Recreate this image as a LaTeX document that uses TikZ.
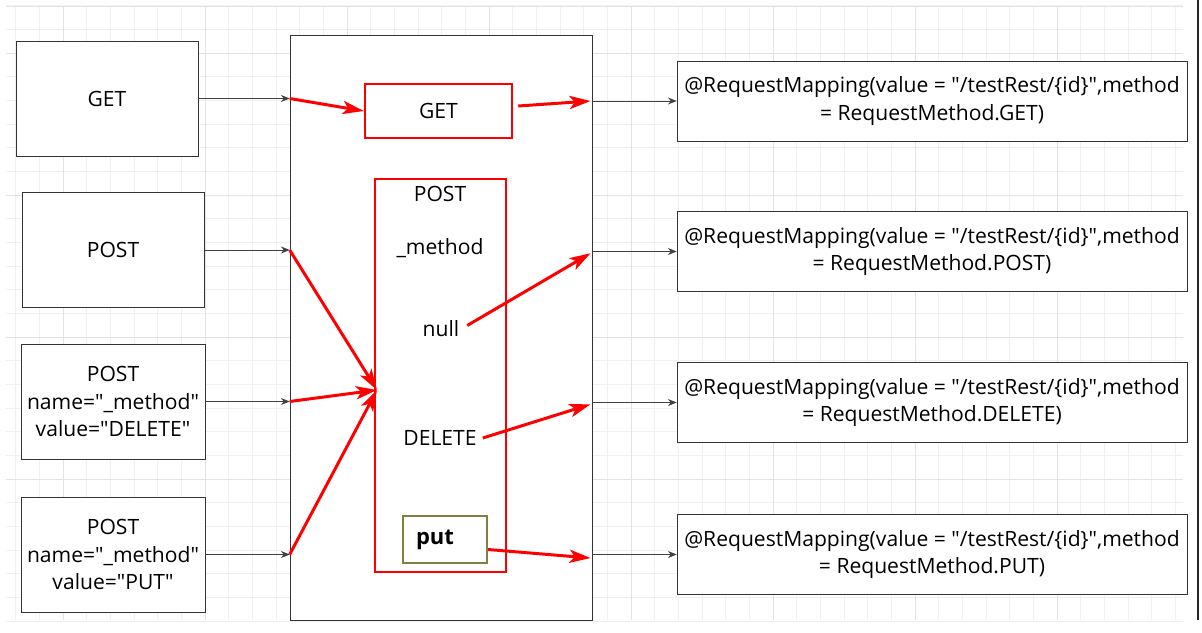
\documentclass[tikz,border=0pt]{standalone}
\usepackage{fontspec}
\setmainfont{Open Sans}
\usetikzlibrary{arrows.meta,positioning}
\newcommand{\dq}{\textquotedbl}
\tikzset{block/.style={draw=black!80, fill=white, rectangle, align=center,
		font=\fontsize{12}{15.8}\selectfont},
	label/.style={font=\fontsize{12}{15.8}\selectfont},
	redbox/.style={draw=red, line width=1.4pt, fill=white},
	putbox/.style={draw={rgb,255:red,128;green,128;blue,64}, line width=1.2pt, fill=white,
		font=\fontsize{12.5}{14}\selectfont\bfseries},
	arrow/.style={draw=black!75, line width=0.5pt, -{Stealth[length=5pt,width=4pt]}},
	redarrow/.style={draw=red, line width=1.7pt, -{Stealth[length=12pt,width=7.5pt,inset=3pt]}},
	minor/.style={draw=black!6, line width=0.5pt},
	major/.style={draw=black!11, line width=0.5pt}}
\begin{document}
\begin{tikzpicture}[x=0.02cm,y=-0.02cm]
	\useasboundingbox (0,0) rectangle (1202,632);
	% grid
	\foreach \i in {-2,...,47}
	\draw[minor]({63+23.67*\i},6)--({63+23.67*\i},620);
	\foreach \j in {-2,...,24}
	\draw[minor](6,{53+23.67*\j})--(1183,{53+23.67*\j});
	\foreach \i in {0,...,7}
	\draw[major]({63+142*\i},6)--({63+142*\i},620);
	\foreach \j in {0,...,3}
	\draw[major](6,{53+142*\j})--(1183,{53+142*\j});
	\draw[major](6,6)--(1183,6);
	\draw[black!85,line width=0.8pt](1198,0)--(1198,620);
	
	% requests
	\node[block,minimum width=3.64cm,minimum height=2.3cm](get)at(107,98.5){GET};
	\node[block,minimum width=3.64cm,minimum height=2.3cm](post)at(113,250){POST};
	\node[block,minimum width=3.64cm,minimum height=2.3cm](del)at(113,401.5){POST\\name=\dq\_method\dq\\value=\dq DELETE\dq};
	\node[block,minimum width=3.64cm,minimum height=2.3cm](put)at(113,554.5){POST\\name=\dq\_method\dq\\value=\dq PUT\dq};
	
	% filter
	\node[block,minimum width=6.04cm,minimum height=11.7cm](disp)at(441,327.5){};
	\node[redbox,minimum width=2.94cm,minimum height=1.08cm,label](getr)at(438.5,111){GET};
	\node[redbox,minimum width=2.62cm,minimum height=7.86cm](postr)at(440.5,375.5){};
	\node[label](tpost)at(440,194){POST};
	\node[label](tmeth)at(440,248){\_method};
	\node[label](tnull)at(441,329){null};
	\node[label](tdel)at(440,438){DELETE};
	\node[putbox,minimum width=1.68cm,minimum height=0.94cm](putb)at(445,539.5){put\hspace{0.4cm}\mbox{}};
	\coordinate(hub)at(377,390);
	
	% handlers
	\node[block,minimum width=10.2cm,minimum height=1.6cm](m1)at(932,101){@RequestMapping(value = \dq/testRest/\{id\}\dq,method\\= RequestMethod.GET)};
	\node[block,minimum width=10.2cm,minimum height=1.6cm](m2)at(932,251.5){@RequestMapping(value = \dq/testRest/\{id\}\dq,method\\= RequestMethod.POST)};
	\node[block,minimum width=10.2cm,minimum height=1.6cm](m3)at(932,402.5){@RequestMapping(value = \dq/testRest/\{id\}\dq,method\\= RequestMethod.DELETE)};
	\node[block,minimum width=10.2cm,minimum height=1.6cm](m4)at(932,554.5){@RequestMapping(value = \dq/testRest/\{id\}\dq,method\\= RequestMethod.PUT)};
	
	\foreach \x in{get,post,del,put}
	\draw[arrow](\x.east)--(\x.east -| disp.west);
	\foreach \x in{m1,m2,m3,m4}
	\draw[arrow](disp.east |- \x.west)--(\x.west);
	
	\draw[redarrow](get.east -| disp.west)--(getr.west);
	\draw[redarrow]([xshift=0.1cm,yshift=0.1cm]getr.east)--([xshift=-1pt]disp.east |- m1.west);
	\foreach \x in{post,del,put}
	\draw[redarrow](\x.east -| disp.west)--(hub);
	\draw[redarrow]([xshift=1pt,yshift=2pt]tnull.east)--([xshift=-1pt,yshift=-1pt]disp.east |- m2.west);
	\draw[redarrow](tdel.east)--([xshift=-1pt,yshift=-1pt]disp.east |- m3.west);
	\draw[redarrow]([yshift=-0.2cm]putb.east)--([xshift=-1pt,yshift=-2pt]disp.east |- m4.west);
\end{tikzpicture}
\end{document}
